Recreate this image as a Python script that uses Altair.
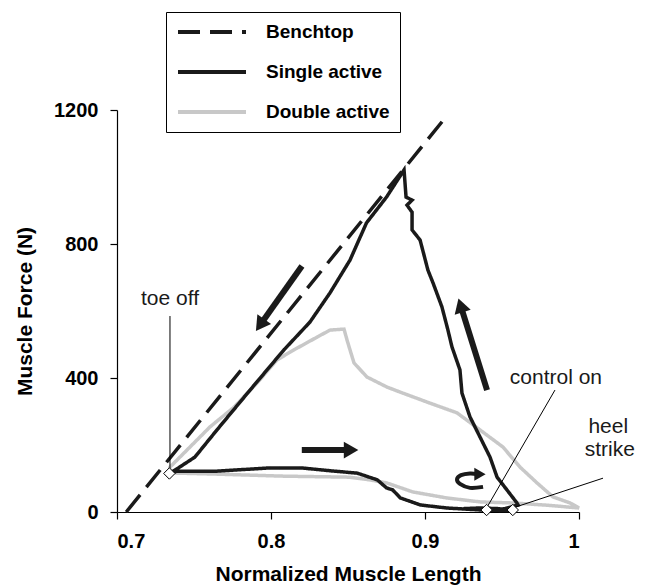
import altair as alt
import pandas as pd

# ---------------- data ----------------
series_order = ["Benchtop", "Single active", "Double active"]

bench_x = [0.706, 0.913]
bench_y = [0, 1176]

single_x = [0.940, 0.952, 0.9604, 0.9597, 0.9532, 0.9468, 0.9422, 0.9357, 0.9292,
            0.9240, 0.9227, 0.9175, 0.9149, 0.9110, 0.9052, 0.9019, 0.8968, 0.8916,
            0.8916, 0.8883, 0.8916, 0.8877, 0.8864, 0.875, 0.862, 0.8513, 0.8383,
            0.8253, 0.8084, 0.7864, 0.7649, 0.7506, 0.7377, 0.734, 0.739, 0.765,
            0.797, 0.821, 0.841, 0.856, 0.869, 0.875, 0.879, 0.884, 0.897, 0.914,
            0.925, 0.936, 0.957, 0.948, 0.935, 0.925, 0.940]
single_y = [5, 10, 21, 27, 66, 104, 164, 224, 284,
            355, 424, 493, 543, 612, 684, 722, 812, 842,
            895, 916, 931, 940, 1021, 940, 863, 752, 654,
            567, 484, 364, 245, 164, 125, 115, 122, 122,
            131, 131, 122, 116, 96, 72, 66, 42, 21, 12,
            9, 6, 4, 10, 12, 10, 5]

double_x = [0.734, 0.739, 0.765, 0.808, 0.851, 0.864, 0.875, 0.892, 0.914, 0.936,
            0.957, 0.980, 0.995, 1.000, 0.9942, 0.9831, 0.9727, 0.9617, 0.9506,
            0.9357, 0.9208, 0.9032, 0.8838, 0.8753, 0.8623, 0.8539, 0.8513, 0.8494,
            0.8474, 0.8383, 0.8299, 0.8149, 0.8039, 0.7909, 0.7760, 0.7604, 0.7435,
            0.7344, 0.734]
double_y = [118, 116, 113, 107, 104, 96, 87, 60, 42, 30,
            27, 20, 14, 12, 27, 45, 87, 134, 194,
            245, 296, 325, 358, 373, 403, 445, 484, 513,
            546, 543, 522, 484, 454, 385, 313, 254, 176,
            134, 118]

marker_name = ["toe off", "control on", "heel strike"]
marker_x = [0.734, 0.940, 0.957]
marker_y = [115, 6, 6]

note_text = ["toe off", "control on", "heel", "strike"]
note_x = [0.7344, 0.985, 1.019, 1.020]
note_y = [636, 400, 254, 185]

leader_x = [0.7344, 0.9844, 1.0156]
leader_y = [585, 364, 101]
leader_x2 = [0.7344, 0.940, 0.957]
leader_y2 = [131, 12, 12]

shaft_x = [0.8201, 0.820, 0.9403]
shaft_y = [734, 185, 364]
shaft_x2 = [0.7929, 0.852, 0.9231]
shaft_y2 = [558, 185, 617]

head_x = [0.7929, 0.852, 0.9231]
head_y = [558, 185, 617]
head_angle = [215, 90, 343]

curl_x = [0.9377, 0.9292, 0.9227, 0.9208, 0.9234, 0.9292, 0.9340]
curl_y = [75, 72, 84, 98, 110, 115, 113]
curl_head_x = [0.9357]
curl_head_y = [113]
curl_head_angle = [90]

# ---------------- tables ----------------
rows = []
for name, xs, ys in [("Double active", double_x, double_y),
                     ("Single active", single_x, single_y),
                     ("Benchtop", bench_x, bench_y)]:
    for i, (a, b) in enumerate(zip(xs, ys)):
        rows.append({"series": name, "x": a, "y": b, "idx": i})
lines_df = pd.DataFrame(rows)

markers_df = pd.DataFrame({"name": marker_name, "x": marker_x, "y": marker_y})
notes_df = pd.DataFrame({"text": note_text, "x": note_x, "y": note_y})
leaders_df = pd.DataFrame({"x": leader_x, "y": leader_y, "x2": leader_x2, "y2": leader_y2})
shafts_df = pd.DataFrame({"x": shaft_x, "y": shaft_y, "x2": shaft_x2, "y2": shaft_y2})
heads_df = pd.DataFrame({"x": head_x, "y": head_y, "ang": head_angle})
curl_df = pd.DataFrame({"x": curl_x, "y": curl_y, "idx": list(range(len(curl_x)))})
curl_head_df = pd.DataFrame({"x": curl_head_x, "y": curl_head_y, "ang": curl_head_angle})

FONT = "Liberation Sans"
INK = "#1a1a1a"

X = alt.X("x:Q",
          scale=alt.Scale(domain=[0.7, 1.0], nice=False, zero=False),
          axis=alt.Axis(values=[0.7, 0.8, 0.9, 1.0], format=".1~f",
                        title="Normalized Muscle Length",
                        labelFontSize=20, labelFontWeight="bold", labelPadding=12,
                        titleFontSize=21, titleFontWeight="bold", titleY=62,
                        titleBaseline="middle",
                        tickSize=7, grid=False))
Y = alt.Y("y:Q",
          scale=alt.Scale(domain=[0, 1200], nice=False),
          axis=alt.Axis(values=[0, 400, 800, 1200], format="d",
                        title="Muscle Force (N)",
                        labelFontSize=20, labelFontWeight="bold", labelPadding=12,
                        titleFontSize=21, titleFontWeight="bold",
                        titleX=-92, titleY=201, titleBaseline="middle",
                        tickSize=7, grid=False))

legend = alt.Legend(title=None, orient="none", legendX=49, legendY=-98,
                    strokeColor="black", fillColor="white", padding=10,
                    labelFont=FONT, labelFontSize=19, labelFontWeight="bold",
                    labelColor="black", symbolType="stroke", symbolSize=4624,
                    symbolStrokeWidth=4, rowPadding=20, clipHeight=20,
                    labelOffset=18)

lines = alt.Chart(lines_df).mark_line(strokeWidth=3.5).encode(
    x=X, y=Y,
    color=alt.Color("series:N",
                    scale=alt.Scale(domain=series_order,
                                    range=[INK, INK, "#c8c8c8"]),
                    legend=legend),
    strokeDash=alt.StrokeDash("series:N",
                              scale=alt.Scale(domain=series_order,
                                              range=[[22, 10], [1, 0], [1, 0]]),
                              legend=legend),
    order="idx:Q",
)

leaders = alt.Chart(leaders_df).mark_rule(color="black", strokeWidth=1).encode(
    x="x:Q", y="y:Q", x2="x2:Q", y2="y2:Q")

shafts = alt.Chart(shafts_df).mark_rule(color=INK, strokeWidth=6).encode(
    x="x:Q", y="y:Q", x2="x2:Q", y2="y2:Q")

heads = alt.Chart(heads_df).mark_point(shape="triangle-up", filled=True,
                                       color=INK, size=280, opacity=1).encode(
    x="x:Q", y="y:Q", angle=alt.Angle("ang:Q", scale=None))

curl = alt.Chart(curl_df).mark_line(color=INK, strokeWidth=4,
                                    interpolate="cardinal").encode(
    x="x:Q", y="y:Q", order="idx:Q")

curl_head = alt.Chart(curl_head_df).mark_point(shape="triangle-up", filled=True,
                                               color=INK, size=170, opacity=1).encode(
    x="x:Q", y="y:Q", angle=alt.Angle("ang:Q", scale=None))

markers = alt.Chart(markers_df).mark_point(shape="diamond", filled=True,
                                           fill="white", stroke="black",
                                           strokeWidth=1, size=130, opacity=1).encode(
    x="x:Q", y="y:Q")

notes = alt.Chart(notes_df).mark_text(font=FONT, fontSize=21, color=INK,
                                      align="center", baseline="middle").encode(
    x="x:Q", y="y:Q", text="text:N")

chart = alt.layer(lines, leaders, shafts, heads, curl, curl_head, markers, notes).properties(
    width=462, height=402,
    padding={"left": 117, "top": 110, "right": 74, "bottom": 73},
    autosize=alt.AutoSizeParams(type="none"),
).configure(font=FONT).configure_axis(
    domainColor="black", tickColor="black", labelColor="black",
    titleColor="black", domainWidth=1.2, tickWidth=1.2,
).configure_view(strokeWidth=0)

chart.save("out.html", embed_options={"renderer": "svg", "actions": False})
